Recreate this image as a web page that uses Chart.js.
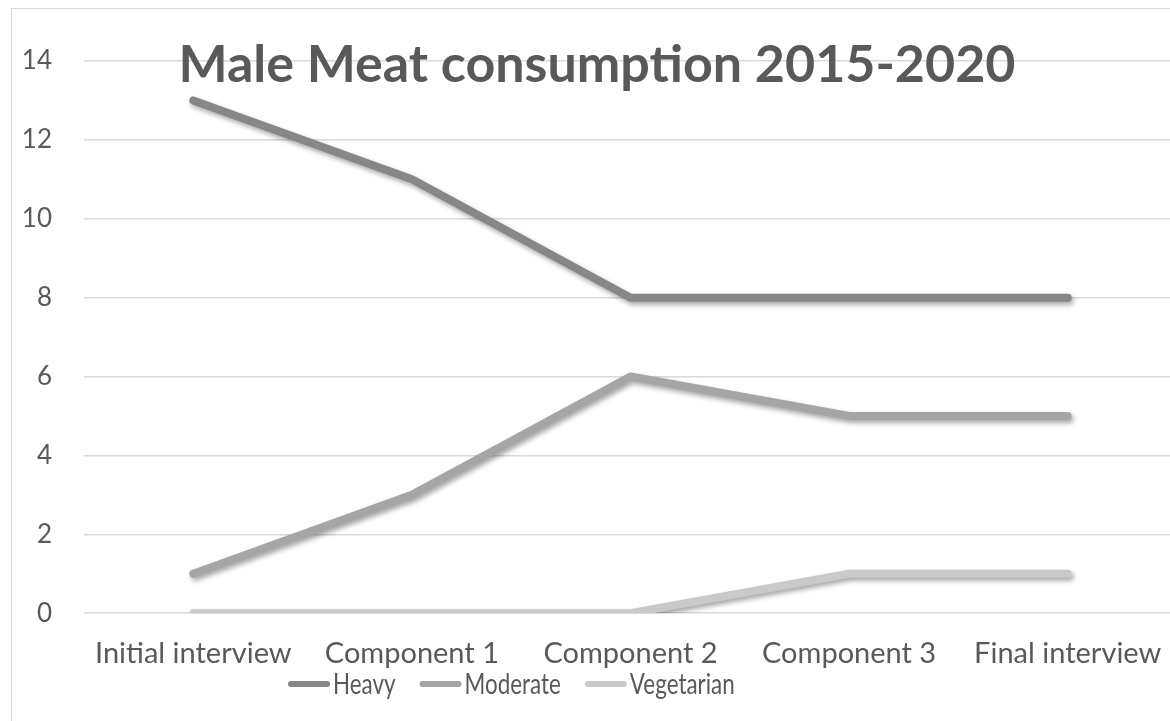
<!DOCTYPE html>
<html>
<head>
<meta charset="utf-8">
<script src="https://cdn.jsdelivr.net/npm/chart.js@4/dist/chart.umd.min.js"></script>
<style>
  html, body { margin: 0; padding: 0; background: #fff; overflow: hidden; }
  #frame {
    position: absolute; left: 11px; top: 8px;
    width: 1200px; height: 760px;
    border: 1px solid #d9d9d9;
  }
  #wrap { position: absolute; left: 0; top: 0; width: 1190px; height: 740px; }
</style>
</head>
<body>
<div id="frame"></div>
<div id="wrap"><canvas id="chart"></canvas></div>
<script>
const stages = ['Initial interview', 'Component 1', 'Component 2', 'Component 3', 'Final interview']
const heavy = [13, 11, 8, 8, 8]
const moderate = [1, 3, 6, 5, 5]
const vegetarian = [0, 0, 0, 1, 1]
const yTicks = [0, 2, 4, 6, 8, 10, 12, 14]

const textColor = '#595959'
const font = 'Lato'

// Excel-style soft drop shadow under the lines
const lineShadow = {
  id: 'lineShadow',
  beforeDatasetsDraw(chart) {
    const ctx = chart.ctx
    ctx.save()
    ctx.shadowColor = 'rgba(0,0,0,0.35)'
    ctx.shadowBlur = 5
    ctx.shadowOffsetX = 2
    ctx.shadowOffsetY = 3
  },
  afterDatasetsDraw(chart) {
    chart.ctx.restore()
  }
}

// title sits on top of the plot area, like the original
const overlayTitle = {
  id: 'overlayTitle',
  afterDraw(chart) {
    const ctx = chart.ctx
    const text = 'Male Meat consumption 2015-2020'
    ctx.save()
    let size = 52
    ctx.font = `bold ${size}px Lato`
    const w = ctx.measureText(text).width
    size = size * 837 / w
    ctx.font = `bold ${size}px Lato`
    ctx.fillStyle = textColor
    ctx.textAlign = 'center'
    ctx.textBaseline = 'alphabetic'
    ctx.fillText(text, 597, 82)
    ctx.restore()
  }
}

// compact legend: line swatch with the label right after it (narrow text like the original)
const tightLegend = {
  id: 'tightLegend',
  afterDraw(chart) {
    const ctx = chart.ctx
    const y = 684
    const squeeze = 0.8
    let x = 288
    ctx.save()
    ctx.font = `28px ${font}`
    ctx.textBaseline = 'middle'
    ctx.textAlign = 'left'
    chart.data.datasets.forEach(ds => {
      ctx.strokeStyle = ds.borderColor
      ctx.lineWidth = 6
      ctx.lineCap = 'round'
      ctx.beginPath()
      ctx.moveTo(x + 3, y)
      ctx.lineTo(x + 39, y)
      ctx.stroke()
      const tx = x + 45
      const tw = ctx.measureText(ds.label).width * squeeze
      ctx.save()
      ctx.translate(tx, y)
      ctx.scale(squeeze, 1)
      ctx.fillStyle = textColor
      ctx.fillText(ds.label, 0, 1)
      ctx.restore()
      x = tx + tw + 24
    })
    ctx.restore()
  }
}

const mkSet = (label, data, color) => ({
  label,
  data,
  borderColor: color,
  backgroundColor: color,
  borderWidth: 8,
  borderCapStyle: 'round',
  borderJoinStyle: 'round',
  pointRadius: 0,
  pointHoverRadius: 0,
  tension: 0,
  fill: false
})

new Chart(document.getElementById('chart'), {
  type: 'line',
  data: {
    labels: stages,
    datasets: [
      mkSet('Heavy', heavy, '#878787'),
      mkSet('Moderate', moderate, '#a5a5a5'),
      mkSet('Vegetarian', vegetarian, '#c9c9c9')
    ]
  },
  options: {
    responsive: true,
    maintainAspectRatio: false,
    animation: false,
    layout: { padding: { left: 22, right: 13, top: 61, bottom: 54 } },
    plugins: {
      legend: { display: false },
      tooltip: { enabled: false },
      title: { display: false }
    },
    scales: {
      x: {
        offset: true,
        grid: { display: false },
        border: { display: false },
        ticks: { color: textColor, font: { family: font, size: 29 }, maxRotation: 0, padding: 15 }
      },
      y: {
        min: 0,
        max: 14,
        afterBuildTicks: (axis) => { axis.ticks = yTicks.map(v => ({ value: v })) },
        afterFit: (axis) => { axis.width = 62 },
        grid: { color: '#d9d9d9', lineWidth: 1.5, drawTicks: false },
        border: { display: false },
        ticks: { color: textColor, font: { family: font, size: 26 }, padding: 32 }
      }
    }
  },
  plugins: [lineShadow, overlayTitle, tightLegend]
})
</script>
</body>
</html>
